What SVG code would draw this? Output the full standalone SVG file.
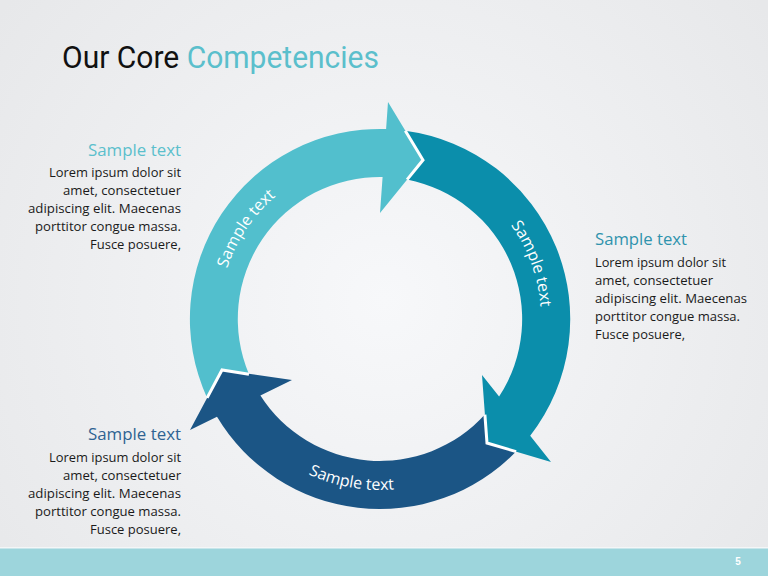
<svg xmlns="http://www.w3.org/2000/svg" width="768" height="576" viewBox="0 0 768 576">
<defs>
<radialGradient id="bg" cx="384" cy="300" r="480" gradientUnits="userSpaceOnUse">
<stop offset="0" stop-color="#f7f8fa"/>
<stop offset="1" stop-color="#e7e8ea"/>
</radialGradient>
<style>
.gap{fill:none;stroke:#ffffff;stroke-width:3;stroke-linejoin:miter;stroke-linecap:butt}
.lbl{font-family:"Open Sans","Noto Sans",sans-serif;font-size:16px;fill:#ffffff}
.head{font-family:"Open Sans","Noto Sans",sans-serif;font-size:16px}
.body{font-family:"Open Sans","Noto Sans",sans-serif;font-size:12.5px;fill:#1a1a1a}
.r{text-anchor:end}
</style>
<path id="p1" d="M 235.3 389.6 A 161 161 0 0 1 391.2 158.4"/>
<path id="p2" d="M 407.95 160.4 A 161 161 0 0 1 503.3 422.5"/>
<path id="p3" d="M 219.3 377.5 A 171 171 0 0 0 511.0 428.9"/>
</defs>
<rect x="0" y="0" width="768" height="576" fill="url(#bg)"/>
<rect x="0" y="548" width="768" height="28" fill="#9dd5dc"/>
<rect x="0" y="547" width="768" height="1.5" fill="#f4f6f7"/>
<text x="738" y="565" font-family="Liberation Sans, sans-serif" font-size="10" font-weight="bold" fill="#ffffff" text-anchor="middle">5</text>

<g id="title">
<text x="62" y="68" font-family="Roboto, 'Liberation Sans', sans-serif" font-size="32" textLength="317" lengthAdjust="spacingAndGlyphs"><tspan fill="#111111">Our Core </tspan><tspan fill="#5bbfcc">Competencies</tspan></text>
</g>

<g id="cycle">
<g id="arrow1">
<path fill="#52bfcd" d="M 207.1 397.9 A 190 190 0 0 1 386.1 129.0 L 388 102 L 423 160 L 380 213 L 382.6 177 A 142 142 0 0 0 248.95 374.15 L 222 370 Z"/>
<text class="lbl"><textPath href="#p1" startOffset="50%" text-anchor="middle">Sample text</textPath></text>
</g>
<g id="arrow2">
<path fill="#0b8eab" d="M 405.3 130.7 A 190 190 0 0 1 530.2 435.7 L 551 462 L 487 443 L 482 375 L 499.1 396.6 A 142 142 0 0 0 407.1 179.6 L 423 160 Z"/>
<text class="lbl"><textPath href="#p2" startOffset="50%" text-anchor="middle">Sample text</textPath></text>
</g>
<g id="arrow3">
<path fill="#1b5585" d="M 516.1 451.6 A 190 190 0 0 1 217.0 416.75 L 190 430 L 222 370 L 292 380 L 260.4 395.5 A 142 142 0 0 0 484.9 414.6 L 487 443 Z"/>
<text class="lbl"><textPath href="#p3" startOffset="50%" text-anchor="middle">Sample text</textPath></text>
</g>
</g>

<g id="connectors">
<path class="gap" d="M 405.3 130.7 L 423 160 L 407.1 179.6"/>
<path class="gap" d="M 516.1 451.6 L 487 443 L 484.9 414.6"/>
<path class="gap" d="M 207.1 397.9 L 222 370 L 248.95 374.15"/>
</g>

<g id="text-left-top">
<text class="head r" x="181" y="156" fill="#5bbfcc" textLength="93" lengthAdjust="spacingAndGlyphs">Sample text</text>
<text class="body r" x="181" y="177" textLength="132" lengthAdjust="spacingAndGlyphs">Lorem ipsum dolor sit</text>
<text class="body r" x="181" y="195" textLength="118" lengthAdjust="spacingAndGlyphs">amet, consectetuer</text>
<text class="body r" x="181" y="213" textLength="153" lengthAdjust="spacingAndGlyphs">adipiscing elit. Maecenas</text>
<text class="body r" x="181" y="231" textLength="146" lengthAdjust="spacingAndGlyphs">porttitor congue massa.</text>
<text class="body r" x="181" y="249" textLength="91" lengthAdjust="spacingAndGlyphs">Fusce posuere,</text>
</g>

<g id="text-right">
<text class="head" x="595" y="245" fill="#2f93ad" textLength="92" lengthAdjust="spacingAndGlyphs">Sample text</text>
<text class="body" x="595" y="267" textLength="131" lengthAdjust="spacingAndGlyphs">Lorem ipsum dolor sit</text>
<text class="body" x="595" y="285" textLength="118" lengthAdjust="spacingAndGlyphs">amet, consectetuer</text>
<text class="body" x="595" y="303" textLength="152" lengthAdjust="spacingAndGlyphs">adipiscing elit. Maecenas</text>
<text class="body" x="595" y="321" textLength="145" lengthAdjust="spacingAndGlyphs">porttitor congue massa.</text>
<text class="body" x="595" y="339" textLength="90" lengthAdjust="spacingAndGlyphs">Fusce posuere,</text>
</g>

<g id="text-left-bottom">
<text class="head r" x="181" y="440" fill="#2f6392" textLength="93" lengthAdjust="spacingAndGlyphs">Sample text</text>
<text class="body r" x="181" y="462" textLength="132" lengthAdjust="spacingAndGlyphs">Lorem ipsum dolor sit</text>
<text class="body r" x="181" y="480" textLength="118" lengthAdjust="spacingAndGlyphs">amet, consectetuer</text>
<text class="body r" x="181" y="498" textLength="153" lengthAdjust="spacingAndGlyphs">adipiscing elit. Maecenas</text>
<text class="body r" x="181" y="516" textLength="146" lengthAdjust="spacingAndGlyphs">porttitor congue massa.</text>
<text class="body r" x="181" y="534" textLength="91" lengthAdjust="spacingAndGlyphs">Fusce posuere,</text>
</g>
</svg>
